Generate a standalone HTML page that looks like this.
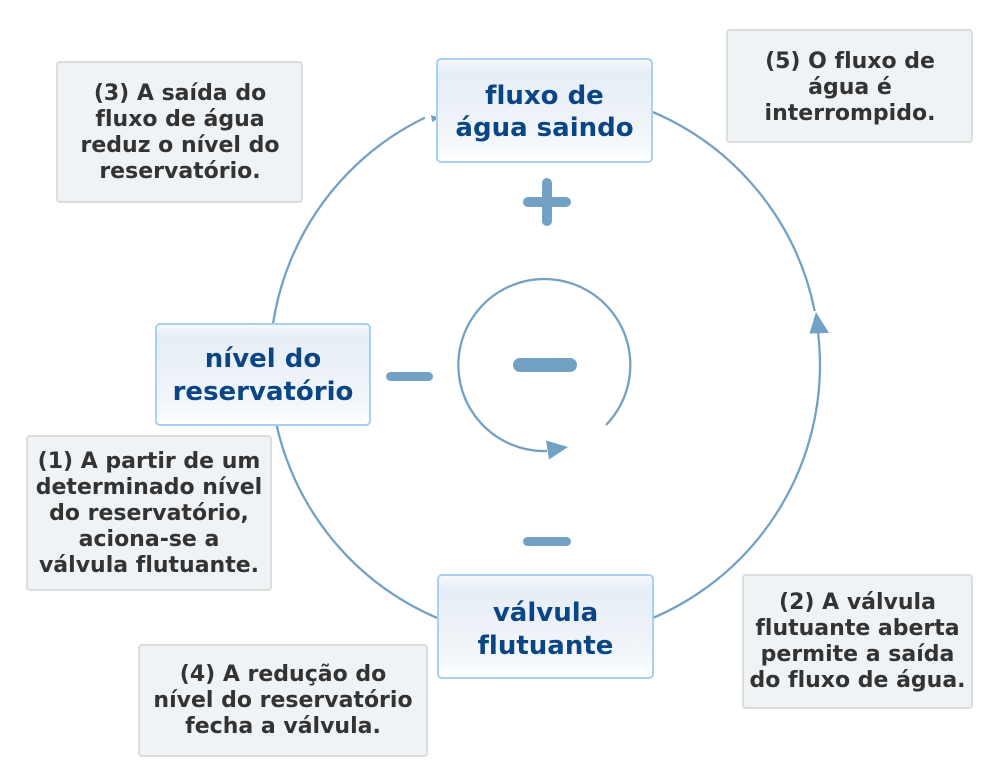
<!DOCTYPE html>
<html>
<head>
<meta charset="utf-8">
<style>
html,body{margin:0;padding:0;background:#fff;}
body{width:991px;height:763px;position:relative;overflow:hidden;font-family:"DejaVu Sans","Liberation Sans",sans-serif;font-weight:bold;font-variant-ligatures:none;font-feature-settings:"liga" 0,"clig" 0;}
.note{position:absolute;box-sizing:border-box;background:#eff3f6;border:2px solid #dcdddd;border-radius:4px;}
.node{position:absolute;box-sizing:border-box;border:2px solid #a8cff4;border-radius:5px;
background:linear-gradient(to bottom,#f6f9fc 0%,#e6eef6 12%,#ebf1f7 45%,#f3f7fb 80%,#f9fbfd 92%,#ffffff 100%);}
.nt{position:absolute;font-size:22px;line-height:26px;color:#333;text-align:center;white-space:nowrap;transform:translateX(-50%);}
.dt{position:absolute;font-size:26px;line-height:33px;color:#0a4584;text-align:center;white-space:nowrap;transform:translateX(-50%);}
svg{position:absolute;left:0;top:0;}
</style>
</head>
<body>
<svg width="991" height="763" viewBox="0 0 991 763">
  <g fill="none" stroke="#73a1c4" stroke-width="2.3">
    <path d="M424.9,117.6 A275,275 0 1 0 818.1,333.1"/>
    <path d="M652.9,112.1 A275,275 0 0 1 814.7,311.1"/>
    <path d="M606,425 A86,86 0 1 0 547,451"/>
  </g>
  <g fill="#73a1c4">
    <polygon points="816,312 809.5,333.5 829,333"/>
    <polygon points="431,115 440,118 432,122"/>
    <polygon points="546,440.5 568,447 549,459.5"/>
    <rect x="523" y="197" width="48" height="10" rx="5"/>
    <rect x="542" y="178" width="10" height="48" rx="5"/>
    <rect x="513" y="358" width="64" height="14" rx="7"/>
    <rect x="386" y="372" width="47" height="9" rx="4.5"/>
    <rect x="523" y="537" width="48" height="9" rx="4.5"/>
  </g>
</svg>

<div class="note" style="left:56px;top:61px;width:247px;height:142px;"></div>
<div class="nt" style="left:180px;top:81px;">(3) A saída do<br>fluxo de água<br>reduz o nível do<br>reservatório.</div>

<div class="note" style="left:726px;top:29px;width:247px;height:114px;"></div>
<div class="nt" style="left:850px;top:49px;">(5) O fluxo de<br>água é<br>interrompido.</div>

<div class="note" style="left:26px;top:435px;width:246px;height:156px;"></div>
<div class="nt" style="left:149px;top:449px;">(1) A partir de um<br>determinado nível<br>do reservatório,<br>aciona-se a<br>válvula flutuante.</div>

<div class="note" style="left:138px;top:644px;width:290px;height:113px;"></div>
<div class="nt" style="left:283px;top:662px;">(4) A redução do<br>nível do reservatório<br>fecha a válvula.</div>

<div class="note" style="left:742px;top:574px;width:231px;height:135px;"></div>
<div class="nt" style="left:857.5px;top:590px;">(2) A válvula<br>flutuante aberta<br>permite a saída<br>do fluxo de água.</div>

<div class="node" style="left:436px;top:58px;width:217px;height:105px;"></div>
<div class="dt" style="left:544.5px;top:80px;line-height:32px;">fluxo de<br>água saindo</div>

<div class="node" style="left:155px;top:323px;width:216px;height:103px;"></div>
<div class="dt" style="left:263px;top:342.5px;">nível do<br>reservatório</div>

<div class="node" style="left:437px;top:574px;width:217px;height:105px;"></div>
<div class="dt" style="left:545.5px;top:596.5px;">válvula<br>flutuante</div>
</body>
</html>
